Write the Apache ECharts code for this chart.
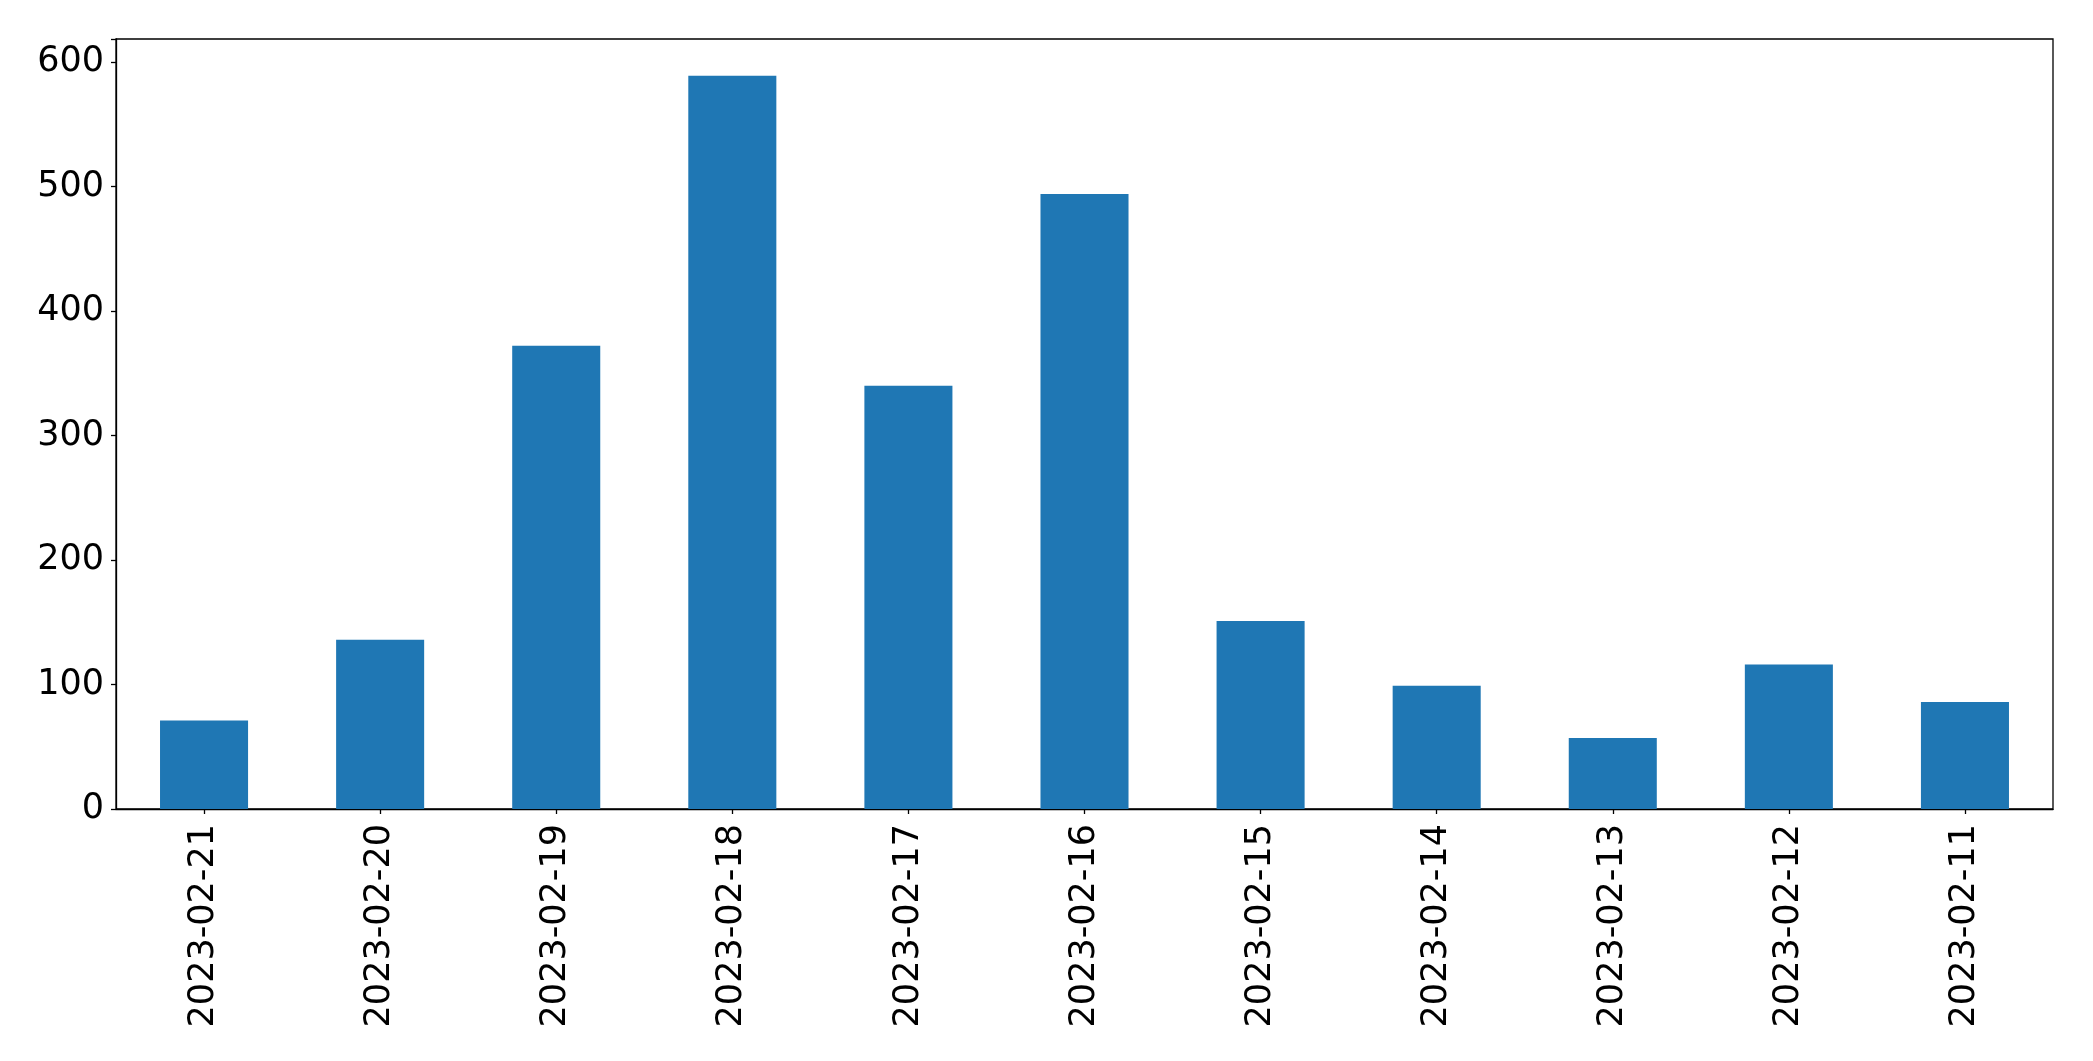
<!DOCTYPE html>
<html>
<head>
<meta charset="utf-8">
<script src="https://cdn.jsdelivr.net/npm/echarts@6/dist/echarts.min.js"></script>
<style>
html,body{margin:0;padding:0;background:#fff;}
#chart{width:2093px;height:1061px;}
</style>
</head>
<body>
<div id="chart"></div>
<script>
const categories = ["2023-02-21","2023-02-20","2023-02-19","2023-02-18","2023-02-17","2023-02-16","2023-02-15","2023-02-14","2023-02-13","2023-02-12","2023-02-11"];
const values = [71, 136, 372, 589, 340, 494, 151, 99, 57, 116, 86];
const yTicks = [0, 100, 200, 300, 400, 500, 600];

const chart = echarts.init(document.getElementById('chart'), null, {renderer: 'canvas'});
const font = 'DejaVu Sans';
chart.setOption({
  animation: false,
  backgroundColor: '#ffffff',
  grid: {
    left: 116, right: 40, top: 39, bottom: 252,
    show: true, borderColor: '#000', borderWidth: 1.3, containLabel: false
  },
  xAxis: {
    type: 'category',
    data: categories,
    boundaryGap: true,
    axisLine: {show: true, lineStyle: {color: '#000', width: 1.3}},
    axisTick: {show: true, alignWithLabel: true, length: 5, lineStyle: {color: '#000', width: 1.3}},
    axisLabel: {rotate: 90, fontFamily: font, fontSize: 35, color: '#000', margin: 15, interval: 0},
    splitLine: {show: false}
  },
  yAxis: {
    type: 'value',
    min: 0,
    max: 589 * 1.05,
    interval: 100,
    axisLine: {show: true, lineStyle: {color: '#000', width: 1.3}},
    axisTick: {show: true, length: 5, lineStyle: {color: '#000', width: 1.3}},
    axisLabel: {
      fontFamily: font, fontSize: 35, color: '#000', margin: 12,
      formatter: function (v) { return yTicks.indexOf(v) >= 0 ? String(v) : ''; }
    },
    splitLine: {show: false}
  },
  series: [{
    type: 'bar',
    data: values,
    barWidth: '50%',
    itemStyle: {color: '#1f77b4'}
  }]
});
</script>
</body>
</html>
